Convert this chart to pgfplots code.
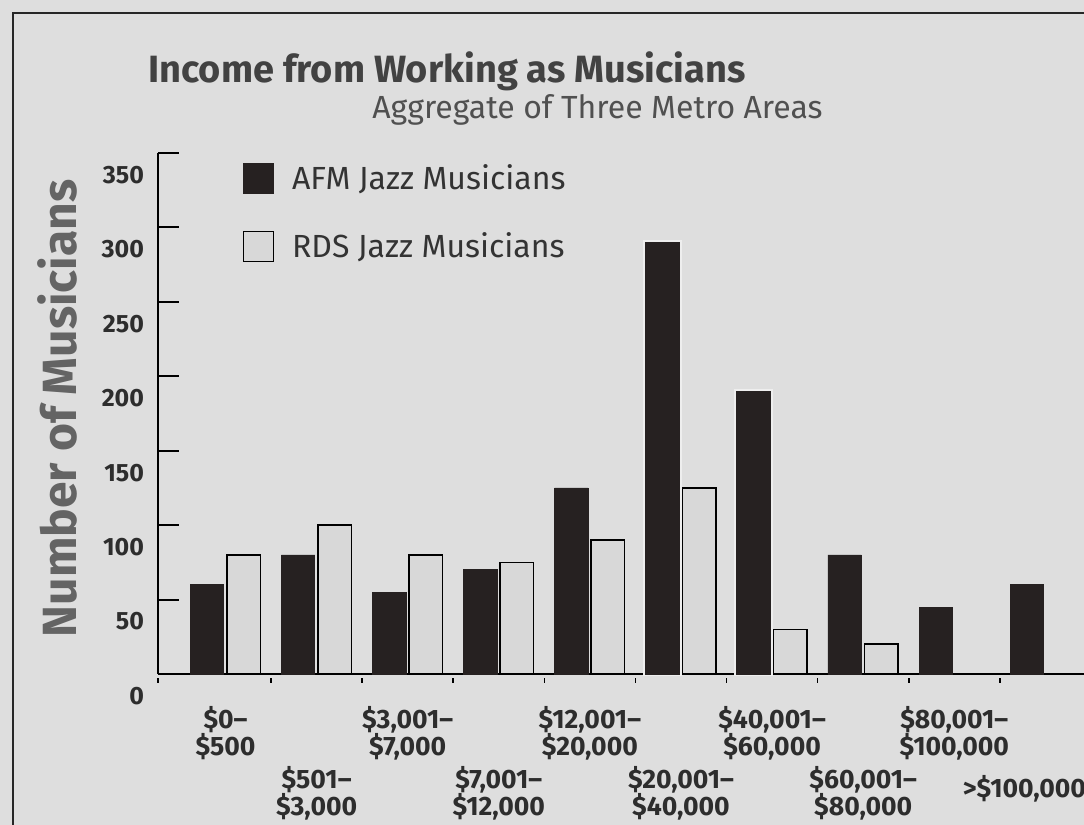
\documentclass[border=0pt]{standalone}
\usepackage{pgfplots}
\pgfplotsset{compat=1.18}
\usepackage{fontspec}
\setmainfont{Fira Sans}

\definecolor{bgcol}{RGB}{222,222,222}
\definecolor{darkbar}{RGB}{38,33,33}
\definecolor{lightbar}{RGB}{216,216,216}
\definecolor{halo}{RGB}{238,238,238}
\definecolor{titlecol}{RGB}{66,66,66}
\definecolor{subcol}{RGB}{80,80,80}
\definecolor{ylabcol}{RGB}{100,100,100}
\definecolor{tickcol}{RGB}{45,45,45}

\begin{document}
\begin{tikzpicture}[x=0.5pt,y=0.5pt]
\useasboundingbox (0,0) rectangle (1084,825);
\fill[bgcol] (0,0) rectangle (1084,825);
\draw[line width=1.2pt, black!85] (13,0) -- (13,812) -- (1084,812);
\node[anchor=base west, text=titlecol, inner sep=0pt,
      font=\bfseries\fontsize{19}{23}\selectfont] at (148,742) {Income from Working as Musicians};
\node[anchor=base west, text=subcol, inner sep=0pt,
      font=\fontsize{16}{19}\selectfont] at (372,706) {Aggregate of Three Metro Areas};

\begin{axis}[
    at={(79pt,75.5pt)}, anchor=south west,
    x=45.55pt, y=0.7443pt,
    xmin=0.259, xmax=10.43, ymin=0, ymax=350,
    axis lines=left,
    axis line style={-, line width=1pt, black},
    clip=false,
    tick align=inside,
    major tick length=10.5pt,
    tick style={line width=1pt, black},
    /pgf/number format/assume math mode=true,
    ytick={0,50,100,150,200,250,300,350},
    yticklabel style={font=\bfseries\fontsize{12.5}{14}\selectfont, text=tickcol,
        yshift=-11pt, xshift=-3.5pt},
    xtick={1,3,5,7,9},
    xticklabels={{\$0--\\\$500},{\$3,001--\\\$7,000},{\$12,001--\\\$20,000},
        {\$40,001--\\\$60,000},{\$80,001--\\\$100,000}},
    extra x ticks={2,4,6,8,10},
    extra x tick labels={{\$501--\\\$3,000},{\$7,001--\\\$12,000},{\$20,001--\\\$40,000},
        {\$60,001--\\\$80,000},{\rule{0pt}{15.5pt}>\$100,000\hspace*{21pt}}},
    extra x tick style={major tick length=0pt, xticklabel style={yshift=-30pt}},
    major x tick style={draw=none},
    minor xtick={0.259,1.5,2.5,3.5,4.5,5.5,6.5,7.5,8.5,9.5},
    minor tick length=2.5pt,
    minor x tick style={yshift=-4.5pt, line width=0.8pt},
    xticklabel style={font=\bfseries\fontsize{13.3}{13.7}\selectfont, text=tickcol,
        align=center, yshift=-12.5pt},
    ylabel={Number of Musicians},
    every axis y label/.style={at={(axis description cs:-0.109,0.51)}, rotate=90,
        anchor=center, font=\bfseries\fontsize{24}{28}\selectfont, text=ylabcol},
    legend style={at={(axis description cs:0.0909,0.9866)}, anchor=north west,
        draw=none, fill=none, inner sep=0pt, row sep=16pt,
        font=\fontsize{16}{19}\selectfont, text=black!80,
        /tikz/every odd column/.append style={column sep=7pt}},
    legend cell align=left,
    legend image code/.code={\draw[#1] (0pt,-7.5pt) rectangle (15pt,7.5pt);},
]
% light halo round the two tallest dark bars, as in the scanned original
\addplot[ybar, bar width=16.75pt, bar shift=-9.25pt, fill=none, draw=halo, line width=2.5pt,
    forget plot] coordinates {(6,290)(7,190)};
\addplot[ybar, bar width=16.75pt, bar shift=-9.25pt, fill=darkbar, draw=darkbar, line width=0.4pt]
    coordinates {(1,60)(2,80)(3,55)(4,70)(5,125)(6,290)(7,190)(8,80)(9,45)(10,60)};
\addlegendentry{AFM Jazz Musicians}
\addplot[ybar, bar width=16.75pt, bar shift=9pt, fill=lightbar, draw=black, line width=0.75pt]
    coordinates {(1,80)(2,100)(3,80)(4,75)(5,90)(6,125)(7,30)(8,20)};
\addlegendentry{RDS Jazz Musicians}
\end{axis}
\end{tikzpicture}
\end{document}
